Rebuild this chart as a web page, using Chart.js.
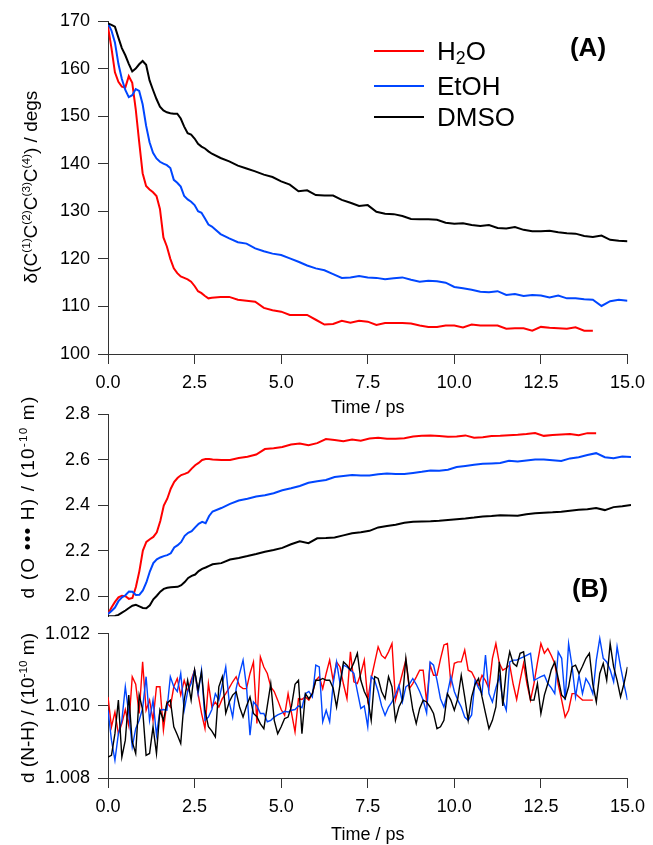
<!DOCTYPE html>
<html>
<head>
<meta charset="utf-8">
<title>Dihedral angle and bond distances</title>
<script src="https://cdn.jsdelivr.net/npm/chart.js@4.4.0/dist/chart.umd.min.js"></script>
<style>
    body { margin: 0; background: #fff; }
    #figure { position: relative; width: 653px; height: 845px; overflow: hidden;
        font-family: 'Liberation Sans', Arial, Helvetica, sans-serif; color: #000; }
    #figure canvas { position: absolute; left: 0; }
    .ytitle { position: absolute; width: 400px; height: 30px; line-height: 30px; text-align: center;
        font-size: 19px; white-space: nowrap; transform: rotate(-90deg); }
    .ytitle sup { font-size: 0.62em; vertical-align: 0.6em; line-height: 0; }
    .ytitle.wide { letter-spacing: 1.2px; }
    .legend-row { position: absolute; left: 374px; height: 30px; display: flex; align-items: center;
        font-size: 26px; white-space: nowrap; }
    .legend-row .swatch { width: 50px; height: 2px; margin-right: 13px; }
    .legend-row sub { font-size: 0.68em; vertical-align: -0.25em; line-height: 0; }
    .tag { position: absolute; font-size: 26px; font-weight: bold; transform: translate(-50%, -50%); }
</style>
</head>
<body>
<div id="figure">
    <canvas id="panel-a" width="653" height="420" style="top:0px"></canvas>
    <canvas id="panel-b" width="653" height="240" style="top:395px"></canvas>
    <canvas id="panel-c" width="653" height="230" style="top:615px"></canvas>

    <div class="ytitle" style="left:-169px; top:172px;">&delta;(C<sup>(1)</sup>C<sup>(2)</sup>C<sup>(3)</sup>C<sup>(4)</sup>) / degs</div>
    <div class="ytitle wide" style="left:-172px; top:482px;">d (O &bull;&bull;&bull; H) / (10<sup>-10</sup> m)</div>
    <div class="ytitle" style="left:-172px; top:693px;">d (N-H) / (10<sup>-10</sup> m)</div>

    <div class="legend-row" style="top:36px;"><span class="swatch" style="background:#ff0000"></span><span>H<sub>2</sub>O</span></div>
    <div class="legend-row" style="top:71px;"><span class="swatch" style="background:#0046ff"></span><span>EtOH</span></div>
    <div class="legend-row" style="top:102px;"><span class="swatch" style="background:#000000"></span><span>DMSO</span></div>

    <div class="tag" style="left:588px; top:47px;">(A)</div>
    <div class="tag" style="left:590px; top:588px;">(B)</div>
</div>

<script>

// time grid (ps) for the two smooth panels: 0.1 ps to 3 ps, then 0.25 ps
const timeA = [0, 0.1, 0.2, 0.3, 0.4, 0.5, 0.6, 0.7, 0.8, 0.9,
    1.0, 1.1, 1.2, 1.3, 1.4, 1.5, 1.6, 1.7, 1.8, 1.9,
    2.0, 2.1, 2.2, 2.3, 2.4, 2.5, 2.6, 2.7, 2.8, 2.9,
    3.0,
    3.25, 3.5, 3.75, 4.0, 4.25, 4.5, 4.75, 5.0,
    5.25, 5.5, 5.75, 6.0, 6.25, 6.5, 6.75, 7.0,
    7.25, 7.5, 7.75, 8.0, 8.25, 8.5, 8.75, 9.0,
    9.25, 9.5, 9.75, 10.0, 10.25, 10.5, 10.75, 11.0,
    11.25, 11.5, 11.75, 12.0, 12.25, 12.5, 12.75, 13.0,
    13.25, 13.5, 13.75, 14.0, 14.25, 14.5, 14.75, 15.0];

// (A) dihedral angle, degrees
const angleH2O = [168.8, 164.3, 159.2, 157.2, 156.2, 156.0, 158.4, 157.0, 151.5, 144.6,
    138.0, 135.3, 134.6, 134.0, 133.2, 130.5, 124.5, 122.6, 120.0, 118.0,
    117.0, 116.3, 116.0, 115.7, 115.2, 114.3, 113.2, 112.8, 112.2, 111.7,
    111.8,
    112.0, 112.0, 111.4, 111.2, 111.0, 109.7, 109.2, 108.9,
    108.2, 108.2, 108.2, 107.2, 106.2, 106.3, 107.0, 106.6,
    107.0, 106.8, 106.1, 106.5, 106.5, 106.5, 106.4, 106.0,
    105.7, 105.7, 106.0, 106.0, 105.6, 106.2, 106.0, 106.0,
    106.0, 105.3, 105.4, 105.4, 104.9, 105.7, 105.5, 105.4,
    105.3, 105.6, 104.9, 104.9];
const angleEtOH = [169.5, 168.0, 165.5, 161.0, 157.8, 155.5, 154.0, 154.4, 155.7, 155.3,
    152.5, 148.0, 144.5, 142.3, 141.1, 140.4, 140.0, 139.7, 139.1, 136.6,
    136.0, 135.2, 133.2, 132.5, 132.0, 131.3, 130.0, 129.7, 128.5, 127.2,
    126.8,
    125.2, 124.3, 123.5, 123.2, 122.2, 121.6, 121.1, 120.8,
    120.1, 119.4, 118.6, 118.0, 117.6, 116.8, 116.0, 116.1,
    116.4, 116.1, 116.0, 115.7, 115.9, 116.1, 115.6, 115.2,
    115.4, 115.3, 115.0, 114.1, 113.8, 113.5, 113.1, 113.0,
    113.2, 112.4, 112.6, 112.2, 112.4, 112.3, 111.9, 112.3,
    111.7, 111.7, 111.5, 111.4, 110.1, 111.1, 111.4, 111.2];
const angleDMSO = [169.5, 169.2, 168.8, 166.5, 164.3, 162.8, 161.0, 159.4, 160.0, 160.9,
    161.6, 160.8, 157.5, 155.5, 153.6, 152.0, 151.2, 150.8, 150.6, 150.5,
    150.5, 149.5, 147.8, 146.4, 146.1, 145.3, 144.2, 143.6, 143.2, 142.6,
    142.1,
    141.2, 140.5, 139.6, 139.0, 138.4, 137.7, 137.2, 136.3,
    135.6, 134.2, 134.4, 133.4, 133.3, 133.3, 132.4, 131.8,
    131.1, 131.3, 129.9, 129.5, 129.4, 129.0, 128.4, 128.3,
    128.3, 128.2, 127.6, 127.4, 127.5, 127.1, 126.9, 127.1,
    126.5, 126.4, 126.7, 126.1, 125.8, 125.8, 125.9, 125.6,
    125.4, 125.3, 124.8, 124.6, 124.9, 124.0, 123.8, 123.7];

// (B) O...H distance, 1e-10 m
const ohH2O = [1.922, 1.950, 1.975, 1.995, 2.002, 2.000, 1.988, 1.992, 2.040, 2.110,
    2.200, 2.238, 2.250, 2.260, 2.280, 2.330, 2.398, 2.428, 2.472, 2.502,
    2.520, 2.532, 2.537, 2.543, 2.560, 2.575, 2.585, 2.598, 2.602, 2.602,
    2.600,
    2.598, 2.598, 2.607, 2.612, 2.622, 2.646, 2.650, 2.655,
    2.666, 2.670, 2.663, 2.672, 2.690, 2.686, 2.680, 2.688,
    2.683, 2.692, 2.696, 2.691, 2.691, 2.694, 2.701, 2.704,
    2.706, 2.703, 2.700, 2.701, 2.706, 2.696, 2.698, 2.703,
    2.704, 2.707, 2.709, 2.712, 2.716, 2.704, 2.708, 2.710,
    2.712, 2.707, 2.716, 2.716];
const ohEtOH = [1.922, 1.935, 1.950, 1.978, 1.995, 2.004, 2.020, 2.019, 2.005, 2.006,
    2.025, 2.060, 2.108, 2.145, 2.162, 2.170, 2.176, 2.180, 2.188, 2.214,
    2.224, 2.238, 2.265, 2.278, 2.285, 2.302, 2.318, 2.326, 2.320, 2.352,
    2.372,
    2.387, 2.405, 2.420, 2.428, 2.438, 2.443, 2.452, 2.465,
    2.474, 2.484, 2.498, 2.505, 2.510, 2.523, 2.528, 2.532,
    2.530, 2.530, 2.535, 2.539, 2.537, 2.536, 2.541, 2.546,
    2.552, 2.551, 2.555, 2.567, 2.572, 2.577, 2.581, 2.583,
    2.585, 2.595, 2.591, 2.596, 2.600, 2.600, 2.597, 2.594,
    2.605, 2.610, 2.620, 2.628, 2.610, 2.606, 2.613, 2.611];
const ohDMSO = [1.912, 1.912, 1.913, 1.918, 1.928, 1.937, 1.948, 1.958, 1.962, 1.955,
    1.948, 1.947, 1.960, 1.986, 2.002, 2.020, 2.032, 2.037, 2.039, 2.040,
    2.041, 2.048, 2.062, 2.080, 2.089, 2.095, 2.110, 2.120, 2.126, 2.133,
    2.140,
    2.145, 2.161, 2.168, 2.176, 2.185, 2.195, 2.203, 2.212,
    2.228, 2.241, 2.233, 2.254, 2.255, 2.258, 2.267, 2.276,
    2.281, 2.287, 2.302, 2.308, 2.314, 2.322, 2.327, 2.328,
    2.329, 2.331, 2.335, 2.338, 2.341, 2.345, 2.350, 2.352,
    2.355, 2.354, 2.353, 2.360, 2.364, 2.366, 2.368, 2.371,
    2.375, 2.379, 2.382, 2.387, 2.378, 2.391, 2.395, 2.400];

// (B) N-H distance, 1e-10 m, sampled every 0.1 ps
const nhH2O = [1.01025, 1.00942, 1.00983, 1.00923, 1.00951, 1.00990, 1.00945, 1.01081, 1.01060, 1.00979,
    1.01122, 1.00988, 1.01016, 1.00960, 1.01053, 1.01053, 1.00933, 1.01010, 1.00997, 1.01053,
    1.01076, 1.01030, 1.01071, 1.01040, 1.01071, 1.01099, 1.01034, 1.00980, 1.00937, 1.01062,
    1.00997, 1.01010, 1.00997, 1.01020, 1.01034, 1.01050, 1.01067, 1.01081, 1.01055, 1.01048,
    1.01048, 1.01090, 1.01122, 1.00951, 1.01136, 1.01108, 1.01090, 1.01053, 1.01040, 1.01016,
    1.00990, 1.00974, 1.01034, 1.00980, 1.00928, 1.01020, 1.01018, 1.01025, 1.01016, 1.01034,
    1.01071, 1.01081, 1.01048, 1.01090, 1.01127, 1.01071, 1.01122, 1.01108, 1.01060, 1.01020,
    1.01150, 1.01067, 1.01062, 1.01090, 1.01127, 1.01016, 1.01076, 1.01120, 1.01164, 1.01140,
    1.01132, 1.01150, 1.01173, 1.01016, 1.01053, 1.01090, 1.01127, 1.01048, 1.01062, 1.01080,
    1.01099, 1.01099, 1.01011, 1.01113, 1.01085, 1.01085, 1.01130, 1.01169, 1.01173, 1.01062,
    1.01118, 1.01122, 1.01122, 1.01155, 1.01099, 1.01094, 1.01075, 1.01057, 1.01085, 1.01070,
    1.01048, 1.01132, 1.01173, 1.01118, 1.01099, 1.01105, 1.01113, 1.01060, 1.01018, 1.01071,
    1.01118, 1.01060, 1.01016, 1.01062, 1.01120, 1.01173, 1.01146, 1.01159, 1.01140, 1.01118,
    1.01060, 1.01016, 1.00969, 1.00988, 1.01034, 1.01034, 1.01025, 1.01016, 1.01016, 1.01016,
    1.01016];
const nhEtOH = [1.00988, 1.00905, 1.00849, 1.00923, 1.00960, 1.01053, 1.00979, 1.00886, 1.00937, 1.00960,
    1.00993, 1.01081, 1.00960, 1.01016, 1.00919, 1.00988, 1.00990, 1.00988, 1.01081, 1.01053,
    1.01040, 1.01090, 1.00988, 1.01040, 1.01062, 1.01099, 1.01034, 1.01099, 1.00960, 1.00969,
    1.00990, 1.01034, 1.01016, 1.01060, 1.01108, 1.01011, 1.00969, 1.01048, 1.01090, 1.01127,
    1.01053, 1.00919, 1.01011, 1.01000, 1.00979, 1.00979, 1.00956, 1.00960, 1.00969, 1.00975,
    1.00979, 1.00985, 1.00983, 1.00988, 1.00990, 1.01000, 1.00995, 1.01034, 1.01040, 1.01025,
    1.01113, 1.01108, 1.00956, 1.00988, 1.00956, 1.01060, 1.01122, 1.01062, 1.01113, 1.01108,
    1.01100, 1.01090, 1.01040, 1.00993, 1.01000, 1.00942, 1.01081, 1.01071, 1.01040, 1.01000,
    1.00974, 1.00997, 1.01011, 1.01030, 1.01057, 1.01011, 1.01053, 1.01060, 1.01076, 1.01060,
    1.01040, 1.01016, 1.00980, 1.01122, 1.01113, 1.01071, 1.01020, 1.00997, 1.01034, 1.01081,
    1.01040, 1.01016, 1.00997, 1.00969, 1.00960, 1.00975, 1.01071, 1.01050, 1.01034, 1.01141,
    1.01034, 1.01011, 1.01050, 1.01081, 1.01016, 1.00988, 1.01122, 1.01127, 1.01127, 1.01132,
    1.01136, 1.01141, 1.01146, 1.01071, 1.01076, 1.01081, 1.01085, 1.01062, 1.01050, 1.01034,
    1.01150, 1.01132, 1.01016, 1.01173, 1.01110, 1.01025, 1.01085, 1.01034, 1.01076, 1.01060,
    1.01034, 1.01127, 1.01187, 1.01132, 1.01122, 1.01100, 1.01067, 1.01164, 1.01108, 1.01060,
    1.01016];
const nhDMSO = [1.00858, 1.00863, 1.00923, 1.01016, 1.00858, 1.00905, 1.01030, 1.00900, 1.00868, 1.01030,
    1.00990, 1.00863, 1.00868, 1.00942, 1.00868, 1.00988, 1.00960, 1.01007, 1.01016, 1.00942,
    1.00920, 1.00896, 1.01016, 1.01071, 1.01016, 1.01099, 1.01044, 1.01094, 1.00988, 1.00942,
    1.00930, 1.00914, 1.01053, 1.01081, 1.00980, 1.01011, 1.01030, 1.01039, 1.00997, 1.00969,
    1.01000, 1.01025, 1.00979, 1.00970, 1.00950, 1.00937, 1.01000, 1.01062, 1.00960, 1.00923,
    1.00942, 1.00965, 1.00969, 1.01000, 1.01060, 1.01071, 1.00923, 1.01034, 1.01020, 1.01034,
    1.01071, 1.01071, 1.01076, 1.01071, 1.01071, 1.01050, 1.00997, 1.01060, 1.01122, 1.01113,
    1.01099, 1.01120, 1.01146, 1.01071, 1.01040, 1.01020, 1.00960, 1.01081, 1.01076, 1.01040,
    1.01020, 1.01081, 1.01053, 1.00960, 1.00997, 1.01016, 1.01132, 1.01053, 1.00990, 1.00951,
    1.00993, 1.01016, 1.01011, 1.00997, 1.00979, 1.00937, 1.00942, 1.00960, 1.01034, 1.01016,
    1.00988, 1.01020, 1.01085, 1.01025, 1.00960, 1.01025, 1.01060, 1.01076, 1.01025, 1.00980,
    1.00937, 1.00960, 1.00997, 1.01122, 1.01000, 1.01099, 1.01150, 1.01118, 1.01110, 1.01146,
    1.01150, 1.01076, 1.01016, 1.01016, 1.01062, 1.00979, 1.01030, 1.01062, 1.01100, 1.01122,
    1.01076, 1.01030, 1.01020, 1.01053, 1.01108, 1.01113, 1.01090, 1.01110, 1.01132, 1.01146,
    1.01060, 1.01011, 1.01090, 1.01118, 1.01071, 1.01173, 1.01108, 1.01071, 1.01025, 1.01062,
    1.01108];

// sample times of the N-H trajectories (every 0.1 ps)
const timeNH = nhDMSO.map(function (v, i) { return i / 10; });

// tick labels
const timeTicks = [0, 2.5, 5, 7.5, 10, 12.5, 15];
const angleTicks = [100, 110, 120, 130, 140, 150, 160, 170];
const ohTicks = [2.0, 2.2, 2.4, 2.6, 2.8];
const nhTicks = [1.008, 1.010, 1.012];

const figureModule = (function () {

    'use strict';

    const RED = '#ff0000';
    const BLUE = '#0046ff';
    const BLACK = '#000000';
    const AXIS = '#333333';

    let obj = {};

    /**
     * Pairs sample times with values
     * @param times
     * @param values
     */
    const toPoints = function (times, values) {
        return values.map(function (v, i) {
            return {x: times[i], y: v};
        });
    };

    const dataset = function (label, times, values, color, width) {
        return {
            label: label,
            data: toPoints(times, values),
            borderColor: color,
            borderWidth: width,
            pointRadius: 0,
            fill: false,
            tension: 0
        };
    };

    /**
     * Igor style axis: outside ticks, no grid
     */
    const axis = function (min, max, ticks, decimals, fit) {
        return {
            type: 'linear',
            min: min,
            max: max,
            afterBuildTicks: function (scale) {
                scale.ticks = ticks.map(function (v) {
                    return {value: v};
                });
            },
            afterFit: fit,
            ticks: {
                color: '#000',
                padding: 8,
                maxRotation: 0,
                autoSkip: false,
                font: {size: 18},
                callback: function (value) {
                    return Number(value).toFixed(decimals);
                }
            },
            grid: {
                drawOnChartArea: false,
                drawTicks: true,
                tickLength: 10,
                color: AXIS,
                tickWidth: 1
            },
            border: {display: true, color: AXIS, width: 1}
        };
    };

    const yAxis = function (min, max, ticks, decimals) {
        return axis(min, max, ticks, decimals, function (scale) {
            scale.width = 108;
        });
    };

    const xAxis = function (height, titlePadding, show) {
        let x = axis(0, 15, timeTicks, 1, function (scale) {
            scale.height = height;
        });
        x.display = show;
        x.title = {
            display: true,
            text: 'Time / ps',
            color: '#000',
            font: {size: 18, lineHeight: 1},
            padding: {top: 0, bottom: titlePadding}
        };
        return x;
    };

    const render = function (id, datasets, x, y, padding) {
        return new Chart(document.querySelector(id), {
            type: 'line',
            data: {datasets: datasets},
            options: {
                responsive: false,
                animation: false,
                events: [],
                layout: {padding: padding},
                plugins: {
                    legend: {display: false},
                    tooltip: {enabled: false}
                },
                scales: {x: x, y: y}
            }
        });
    };

    obj.init = function () {

        Chart.defaults.font.family = "'Liberation Sans', Arial, Helvetica, sans-serif";

        // (A) dihedral angle
        render('#panel-a', [
            dataset('DMSO', timeA, angleDMSO, BLACK, 2),
            dataset('EtOH', timeA, angleEtOH, BLUE, 2),
            dataset('H2O', timeA, angleH2O, RED, 2)
        ], xAxis(66, 3, true), yAxis(100, 170, angleTicks, 0), {left: 0, right: 22, top: 21, bottom: 0});

        // (B) O...H distance, shares the lower time axis
        render('#panel-b', [
            dataset('DMSO', timeA, ohDMSO, BLACK, 2),
            dataset('EtOH', timeA, ohEtOH, BLUE, 2),
            dataset('H2O', timeA, ohH2O, RED, 2)
        ], xAxis(0, 0, false), yAxis(1.912, 2.8, ohTicks, 1), {left: 0, right: 22, top: 19, bottom: 11});

        // (B) N-H distance
        render('#panel-c', [
            dataset('DMSO', timeNH, nhDMSO, BLACK, 1.4),
            dataset('EtOH', timeNH, nhEtOH, BLUE, 1.4),
            dataset('H2O', timeNH, nhH2O, RED, 1.4)
        ], xAxis(67, 1, true), yAxis(1.008, 1.012, nhTicks, 3), {left: 0, right: 22, top: 18, bottom: 0});
    };

    return obj;

}());

figureModule.init();
</script>
</body>
</html>
